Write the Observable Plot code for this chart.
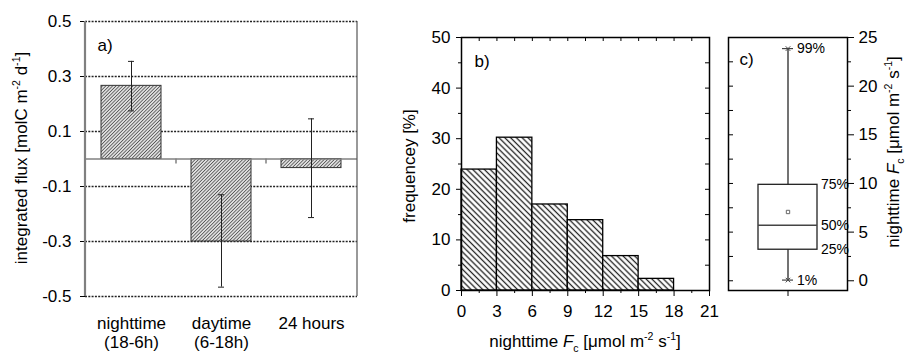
<!DOCTYPE html>
<html><head><meta charset="utf-8">
<script src="https://cdn.jsdelivr.net/npm/d3@7"></script>
<script src="https://cdn.jsdelivr.net/npm/@observablehq/plot@0.6"></script>
<style>
body{margin:0;background:#fff;}
#wrap{position:relative;width:908px;height:354px;overflow:hidden;background:#fff;}
#wrap svg{position:absolute;top:0;}
</style></head><body><div id="wrap"></div>
<script>
// ---- panel a data ----
const periods = ["nighttime\n(18-6h)", "daytime\n(6-18h)", "24 hours"];
const fluxMean = [0.266, -0.300, -0.033];
const fluxLow = [0.175, -0.466, -0.213];
const fluxHigh = [0.355, -0.130, 0.146];
const fluxTicks = [0.5, 0.3, 0.1, -0.1, -0.3, -0.5];

// ---- panel b data ----
const binEdges = [0, 3, 6, 9, 12, 15, 18];
const freqPct = [23.9, 30.2, 17.0, 13.9, 6.8, 2.3];
const fcTicks = [0, 3, 6, 9, 12, 15, 18, 21];
const fcMinor = [1.5, 4.5, 7.5, 10.5, 13.5, 16.5, 19.5];
const freqTicks = [0, 10, 20, 30, 40, 50];
const freqMinor = [5, 15, 25, 35, 45];

// ---- panel c data ----
const pctLabels = ["99%", "75%", "50%", "25%", "1%"];
const pctValues = [23.86, 9.86, 5.7, 3.19, 0.07];
const meanFc = 7.07;
const boxTicks = [0, 5, 10, 15, 20, 25];
const boxMinor = [2.5, 7.5, 12.5, 17.5, 22.5];
const boxAllTicks = [0, 2.5, 5, 7.5, 10, 12.5, 15, 17.5, 20, 22.5];

const FONT = "'Liberation Sans', Arial, Helvetica, sans-serif";
const style = {fontFamily: FONT, fontSize: "17px", color: "#000", background: "#fff", overflow: "visible"};

function hatch(id, spacing, angle, color, width, bg) {
  return () => {
    const defs = d3.create("svg:defs");
    const p = defs.append("pattern").attr("id", id).attr("patternUnits", "userSpaceOnUse")
      .attr("width", spacing).attr("height", spacing).attr("patternTransform", `rotate(${angle})`);
    p.append("rect").attr("width", spacing).attr("height", spacing).attr("fill", bg);
    p.append("line").attr("x1", spacing / 2).attr("x2", spacing / 2).attr("y1", -1).attr("y2", spacing + 1)
      .attr("stroke", color).attr("stroke-width", width);
    return defs.node();
  };
}

function edge(side, color, width) {
  return (index, scales, values, d) => {
    const x1 = d.marginLeft, x2 = d.width - d.marginRight, y1 = d.marginTop, y2 = d.height - d.marginBottom;
    const c = side === "left" ? [x1, y1, x1, y2] : [x2, y1, x2, y2];
    return d3.create("svg:line").attr("x1", c[0]).attr("y1", c[1]).attr("x2", c[2]).attr("y2", c[3])
      .attr("stroke", color).attr("stroke-width", width).node();
  };
}

function richLabel(parts, x, y, rotate, size) {
  return () => {
    const t = d3.create("svg:text")
      .attr("transform", `translate(${x},${y}) rotate(${rotate})`)
      .attr("text-anchor", "middle").attr("fill", "#000")
      .attr("font-family", FONT).attr("font-size", size);
    let shift = 0;
    for (const p of parts) {
      const target = p.sup ? -0.42 * size : p.sub ? 0.3 * size : 0;
      const s = t.append("tspan").text(p.t).attr("dy", target - shift);
      shift = target;
      if (p.sup || p.sub) s.attr("font-size", size * 0.62);
      if (p.it) s.attr("font-style", "italic");
    }
    return t.node();
  };
}

const fcLabelParts = [{t: "nighttime "}, {t: "F", it: true}, {t: "c", sub: true}, {t: " [μmol m"}, {t: "-2", sup: true}, {t: " s"}, {t: "-1", sup: true}, {t: "]"}];

const wrap = document.getElementById("wrap");

// ================= Panel a =================
const rowsA = periods.map((p, i) => ({period: p, mean: fluxMean[i], lo: fluxLow[i], hi: fluxHigh[i]}));
const chartA = Plot.plot({
  width: 370, height: 354, marginLeft: 85, marginRight: 13, marginTop: 21, marginBottom: 58,
  style,
  x: {domain: periods, paddingInner: 0.33, paddingOuter: 0.165, axis: null},
  y: {domain: [-0.5, 0.5], axis: null},
  marks: [
    hatch("hatchA", 2.4, 45, "#555", 1.1, "#fff"),
    Plot.ruleY(fluxTicks, {y: d => d, stroke: "#222", strokeWidth: 1.7, strokeDasharray: "2,1.3"}),
    Plot.axisY({ticks: fluxTicks, tickFormat: d => String(d), tickSize: 5, tickPadding: 9, label: null}),
    Plot.barY(rowsA, {x: "period", y: "mean", fill: "url(#hatchA)", stroke: "#333", strokeWidth: 1}),
    Plot.ruleY([0], {stroke: "#808080", strokeWidth: 1.5}),
    (index, scales) => {
      const g = d3.create("svg:g");
      const x = scales.x, y = scales.y;
      const bw = x.bandwidth ? x.bandwidth() : 61, step = x.step ? x.step() : 91;
      periods.slice(0, -1).forEach(p => {
        const bx = x(p) + bw + (step - bw) / 2;
        g.append("line").attr("x1", bx).attr("x2", bx).attr("y1", y(0)).attr("y2", y(0) + 5)
          .attr("stroke", "#808080").attr("stroke-width", 1.5);
      });
      return g.node();
    },
    Plot.ruleX(rowsA, {x: "period", y1: "lo", y2: "hi", stroke: "#222", strokeWidth: 1}),
    Plot.tickY(rowsA, {x: "period", y: "lo", insetLeft: 27, insetRight: 27, stroke: "#222"}),
    Plot.tickY(rowsA, {x: "period", y: "hi", insetLeft: 27, insetRight: 27, stroke: "#222"}),
    edge("left", "#808080", 2.2),
    edge("right", "#555", 1.2),
    Plot.text(periods, {x: d => d, text: d => d, frameAnchor: "bottom", lineAnchor: "top", dy: 19, lineHeight: 1.12}),
    Plot.text(["a)"], {text: d => d, frameAnchor: "top-left", dx: 12, dy: 24, textAnchor: "start", lineAnchor: "middle"}),
    richLabel([{t: "integrated flux [molC m"}, {t: "-2", sup: true}, {t: " d"}, {t: "-1", sup: true}, {t: "]"}], 27, 158, -90, 17)
  ]
});
chartA.style.left = "0px";
wrap.appendChild(chartA);

// ================= Panel b =================
const rowsB = freqPct.map((f, i) => ({x1: binEdges[i], x2: binEdges[i + 1], f}));
const chartB = Plot.plot({
  width: 350, height: 354, marginLeft: 91, marginRight: 11, marginTop: 37, marginBottom: 64,
  style,
  x: {domain: [0, 21], axis: null},
  y: {domain: [0, 50], axis: null},
  marks: [
    hatch("hatchB", 4.1, -45, "#222", 1.3, "#fff"),
    Plot.rect(rowsB, {x1: "x1", x2: "x2", y1: 0, y2: "f", fill: "url(#hatchB)", stroke: "#000", strokeWidth: 1.3}),
    Plot.frame({stroke: "#000", strokeWidth: 1.5}),
    Plot.axisX({ticks: fcTicks, tickSize: 6, tickPadding: 8, tickFormat: d => String(d), label: null}),
    Plot.axisX({ticks: fcMinor, tickSize: 3, tickFormat: () => "", label: null}),
    Plot.tickX([...fcTicks, ...fcMinor], {x: d => d, insetBottom: 249, stroke: "#000"}),
    Plot.axisY({ticks: freqTicks, tickSize: 5, tickPadding: 6, tickFormat: d => String(d), label: null}),
    Plot.axisY({ticks: freqMinor, tickSize: 3, tickFormat: () => "", label: null}),
    Plot.tickY([...freqTicks, ...freqMinor], {y: d => d, insetLeft: 244, stroke: "#000"}),
    Plot.text(["b)"], {text: d => d, frameAnchor: "top-left", dx: 13, dy: 24, textAnchor: "start", lineAnchor: "middle"}),
    richLabel([{t: "frequencey [%]"}], 45, 166, -90, 17),
    richLabel(fcLabelParts, 215, 347, 0, 17)
  ]
});
chartB.style.left = "370px";
wrap.appendChild(chartB);

// ================= Panel c =================
const rowsC = [{cat: "Fc", p99: pctValues[0], q3: pctValues[1], med: pctValues[2], q1: pctValues[3], p1: pctValues[4], mean: meanFc}];
const pctRows = pctLabels.map((l, i) => ({cat: "Fc", label: l, v: pctValues[i]}));
const chartC = Plot.plot({
  width: 188, height: 354, marginLeft: 8, marginRight: 61, marginTop: 37, marginBottom: 64,
  style,
  x: {domain: ["Fc"], padding: 1 / 3, axis: null},
  y: {domain: [-1, 25], axis: null},
  marks: [
    Plot.frame({stroke: "#000", strokeWidth: 1.5}),
    Plot.tickY(boxAllTicks, {y: d => d, insetRight: 114, stroke: "#000"}),
    Plot.ruleX(rowsC, {x: "cat", y1: "q3", y2: "p99", stroke: "#444", strokeWidth: 1.5}),
    Plot.ruleX(rowsC, {x: "cat", y1: "p1", y2: "q1", stroke: "#444", strokeWidth: 1.5}),
    Plot.barY(rowsC, {x: "cat", y1: "q1", y2: "q3", fill: "none", stroke: "#222", strokeWidth: 1.3}),
    Plot.tickY(rowsC, {x: "cat", y: "med", stroke: "#444", strokeWidth: 1.6}),
    Plot.tickY(pctRows.filter((d, i) => i === 0 || i === 4), {x: "cat", y: "v", insetLeft: 24, insetRight: 24, stroke: "#444", strokeWidth: 1.2}),
    Plot.dot(pctRows.filter((d, i) => i === 0 || i === 4), {x: "cat", y: "v", symbol: "times", r: 2.2, stroke: "#444", strokeWidth: 1}),
    Plot.dot(rowsC, {x: "cat", y: "mean", symbol: "square", r: 1.9, stroke: "#666", strokeWidth: 1, fill: "none"}),
    Plot.text(pctRows.filter((d, i) => i === 0 || i === 4), {x: "cat", y: "v", text: "label", dx: 9, textAnchor: "start", lineAnchor: "middle", fontSize: 14}),
    Plot.text(pctRows.filter((d, i) => i >= 1 && i <= 3), {x: "cat", y: "v", text: "label", dx: 33, textAnchor: "start", lineAnchor: "middle", fontSize: 14}),
    Plot.axisX({tickSize: 6, tickFormat: () => "", label: null}),
    Plot.axisY({anchor: "right", ticks: boxTicks, tickSize: 6, tickPadding: 5, tickFormat: d => String(d), label: null}),
    Plot.axisY({anchor: "right", ticks: boxMinor, tickSize: 3, tickFormat: () => "", label: null}),
    Plot.text(["c)"], {text: d => d, frameAnchor: "top-left", dx: 11, dy: 22, textAnchor: "start", lineAnchor: "middle"}),
    richLabel(fcLabelParts, 179, 152, -90, 17)
  ]
});
chartC.style.left = "720px";
wrap.appendChild(chartC);
</script>
</body></html>
